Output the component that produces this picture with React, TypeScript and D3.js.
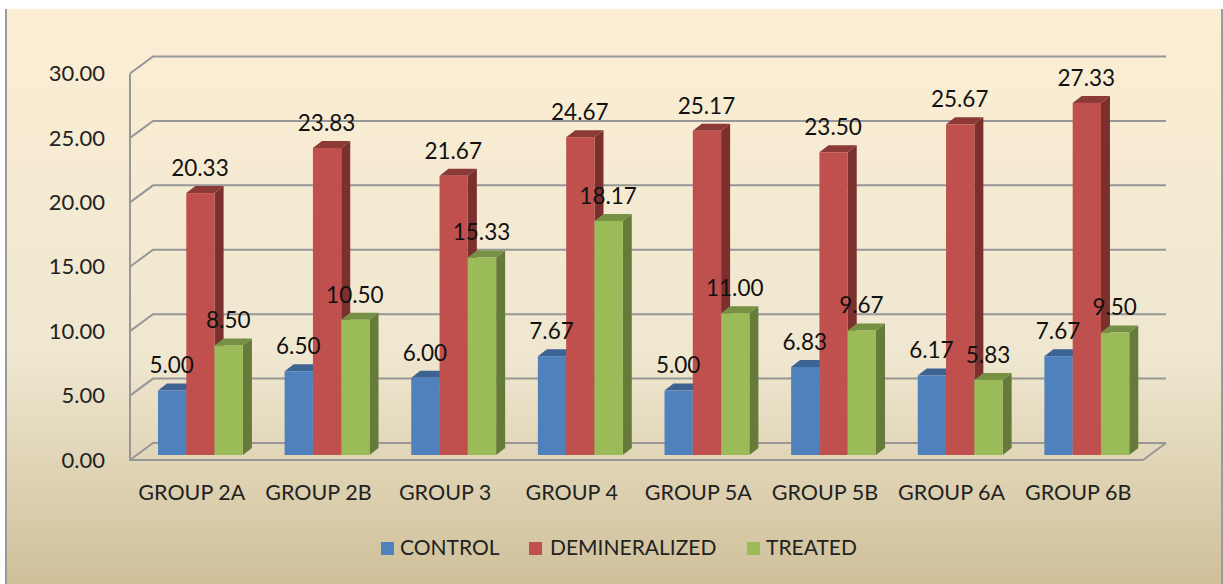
import * as d3 from 'd3';

const groups = ['GROUP 2A', 'GROUP 2B', 'GROUP 3', 'GROUP 4', 'GROUP 5A', 'GROUP 5B', 'GROUP 6A', 'GROUP 6B'];
const seriesNames = ['CONTROL', 'DEMINERALIZED', 'TREATED'];
const control = [5.0, 6.5, 6.0, 7.67, 5.0, 6.83, 6.17, 7.67];
const demineralized = [20.33, 23.83, 21.67, 24.67, 25.17, 23.5, 25.67, 27.33];
const treated = [8.5, 10.5, 15.33, 18.17, 11.0, 9.67, 5.83, 9.5];
const yTicks = [0, 5, 10, 15, 20, 25, 30];

const seriesValues = [control, demineralized, treated];
const faceColors = ['#4F81BD', '#C0504D', '#9BBB59'];
const topColors = ['#3C6391', '#8C3A38', '#779144'];
const sideColors = ['#2F4F75', '#7C302E', '#667A3A'];
const legendSquareX = [381, 529, 747];
const legendTextX = [400, 550, 766];

const FONT = 'Lato, "Open Sans", sans-serif';
const GRID = '#979797';

// front plane of the bars
const yScale = d3.scaleLinear().domain([0, 30]).range([455, 68.5]);
const xGroup = d3.scaleBand<string>().domain(groups).range([130, 1143]).paddingInner(0).paddingOuter(0);
const groupOffset = 28;
const barW = 28.3;

// wall offsets from the bar plane
const wallFrontDy = 5;
const wallBackDy = -12;
const wallDepth = 23;
const barDepthX = 9;
const barDepthY = 7;

const poly = d3.line<[number, number]>();

export default function App() {
  const left = xGroup.range()[0];
  const right = xGroup.range()[1];

  return (
    <svg
      width={1223}
      height={584}
      viewBox="0 0 1223 584"
      style={{ position: 'absolute', left: 0, top: 0, display: 'block' }}
      fontFamily={FONT}
    >
      <defs>
        <linearGradient id="bg" x1="0" y1="0" x2="0" y2="1">
          <stop offset="0" stopColor="#FCEED4" />
          <stop offset="0.6" stopColor="#EFE7D0" />
          <stop offset="1" stopColor="#CFC09A" />
        </linearGradient>
      </defs>
      <rect width={1223} height={584} fill="#ffffff" />
      <rect x={6} y={9} width={1216} height={575} fill="url(#bg)" />
      <path d="M6,9V584M1222,9V584" stroke="#9A9A9A" strokeWidth={2} fill="none" />

      {/* walls and floor */}
      {yTicks.map((t) => (
        <path
          key={t}
          d={poly([
            [left, yScale(t) + wallFrontDy],
            [left + wallDepth, yScale(t) + wallBackDy],
            [right + wallDepth, yScale(t) + wallBackDy],
          ]) as string}
          fill="none"
          stroke={GRID}
          strokeWidth={2}
        />
      ))}
      <path
        d={poly([
          [left, yScale(30) + wallFrontDy],
          [left, yScale(0) + wallFrontDy],
          [right, yScale(0) + wallFrontDy],
          [right + wallDepth, yScale(0) + wallBackDy],
        ]) as string}
        fill="none"
        stroke={GRID}
        strokeWidth={2}
      />

      {yTicks.map((t) => (
        <text
          key={t}
          x={105}
          y={yScale(t) + wallFrontDy}
          dy="0.35em"
          textAnchor="end"
          fontSize={22}
          fill="#222"
        >
          {t.toFixed(2)}
        </text>
      ))}

      {/* bars */}
      {groups.map((g, gi) =>
        seriesValues.map((vals, si) => {
          const x = (xGroup(g) as number) + groupOffset + si * barW;
          const yTop = yScale(vals[gi]);
          const yBase = yScale(0);
          return (
            <g key={g + si}>
              <path
                d={poly([
                  [x + barW, yTop],
                  [x + barW + barDepthX, yTop - barDepthY],
                  [x + barW + barDepthX, yBase - barDepthY],
                  [x + barW, yBase],
                ]) as string}
                fill={sideColors[si]}
              />
              <path
                d={poly([
                  [x, yTop],
                  [x + barDepthX, yTop - barDepthY],
                  [x + barW + barDepthX, yTop - barDepthY],
                  [x + barW, yTop],
                ]) as string}
                fill={topColors[si]}
              />
              <rect x={x} y={yTop} width={barW} height={yBase - yTop} fill={faceColors[si]} />
            </g>
          );
        })
      )}

      {/* value labels */}
      {groups.map((g, gi) =>
        seriesValues.map((vals, si) => (
          <text
            key={g + si}
            x={(xGroup(g) as number) + groupOffset + si * barW + barW / 2 - 0.5}
            y={yScale(vals[gi]) - 25}
            dy="0.35em"
            textAnchor="middle"
            fontSize={22.5}
            fill="#111"
          >
            {vals[gi].toFixed(2)}
          </text>
        ))
      )}

      {/* category labels */}
      {groups.map((g) => (
        <text
          key={g}
          x={(xGroup(g) as number) + xGroup.bandwidth() / 2 - 1.5}
          y={492}
          dy="0.35em"
          textAnchor="middle"
          fontSize={21.5}
          fill="#222"
        >
          {g}
        </text>
      ))}

      {/* legend */}
      {seriesNames.map((name, i) => (
        <g key={name}>
          <rect x={legendSquareX[i]} y={542} width={13} height={13} fill={faceColors[i]} />
          <text x={legendTextX[i]} y={548} dy="0.35em" fontSize={21} fill="#222">
            {name}
          </text>
        </g>
      ))}
    </svg>
  );
}
